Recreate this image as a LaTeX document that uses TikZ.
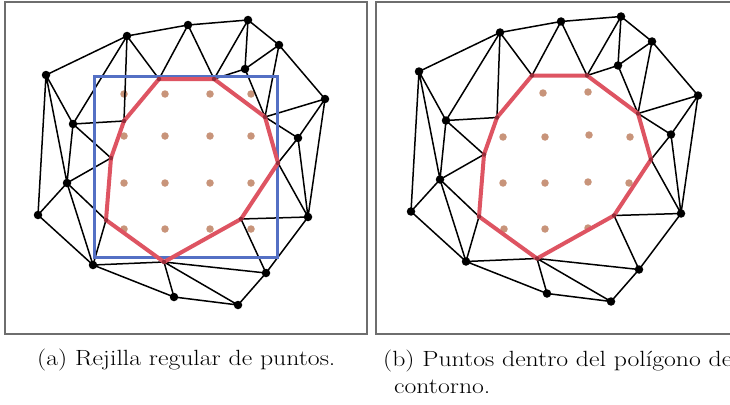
\documentclass[tikz,border=0pt]{standalone}
\definecolor{polyred}{RGB}{222,84,98}
\definecolor{polydark}{RGB}{150,45,58}
\definecolor{gridblue}{RGB}{84,112,196}
\definecolor{gridtan}{RGB}{200,148,122}
\definecolor{framegray}{RGB}{110,110,110}
\tikzset{
  mesh/.style={draw=black, line width=1.5pt},
  vtx/.style={circle, fill=black, inner sep=0pt, minimum size=8.5pt},
  pvtx/.style={circle, fill=polydark, inner sep=0pt, minimum size=4.5pt},
  sample/.style={circle, fill=gridtan, inner sep=0pt, minimum size=7.5pt},
  contour/.style={draw=polyred, line width=4pt, line join=round},
  bbox/.style={draw=gridblue, line width=3pt},
  panel/.style={draw=framegray, line width=1.6pt},
  capt/.style={inner sep=0pt, anchor=base west, font=\fontsize{22}{26}\selectfont}
}
\newcommand\meshcoords{%
  \coordinate (A) at (127,36);
  \coordinate (B) at (188,25);
  \coordinate (C) at (248,20);
  \coordinate (D) at (279,45);
  \coordinate (E) at (245,69);
  \coordinate (F) at (325,99);
  \coordinate (G) at (298,138);
  \coordinate (H) at (46,75);
  \coordinate (I) at (73,124);
  \coordinate (J) at (67,183);
  \coordinate (K) at (38,215);
  \coordinate (L) at (93,265);
  \coordinate (M) at (174,297);
  \coordinate (N) at (238,305);
  \coordinate (O) at (266,273);
  \coordinate (P) at (308,217);
  \coordinate (R1) at (159,79);
  \coordinate (R2) at (214,79);
  \coordinate (R3) at (265,117);
  \coordinate (R4) at (278,163);
  \coordinate (R5) at (241,219);
  \coordinate (R6) at (164,262);
  \coordinate (R7) at (106,220);
  \coordinate (R8) at (111,158);
  \coordinate (R9) at (124,121);
}
\newcommand\meshedges{%
  \draw[mesh] (A) -- (B) (B) -- (C) (C) -- (D) (D) -- (F) (A) -- (H)
    (A) -- (R1) (B) -- (R1) (B) -- (R2) (C) -- (R2) (C) -- (E) (D) -- (E)
    (E) -- (R2) (E) -- (R3) (D) -- (R3) (F) -- (R3) (F) -- (G) (G) -- (R3)
    (G) -- (R4) (G) -- (P) (F) -- (P) (P) -- (R4) (P) -- (R5) (O) -- (P)
    (O) -- (R5) (O) -- (N) (M) -- (N) (R6) -- (O) (R6) -- (N) (R6) -- (M)
    (L) -- (M) (L) -- (R6) (L) -- (R7) (K) -- (L) (J) -- (L) (J) -- (K)
    (J) -- (R7) (J) -- (R8) (I) -- (J) (H) -- (J) (H) -- (K) (H) -- (I)
    (A) -- (I) (I) -- (R9) (I) -- (R8) (A) -- (R9);
}
\newcommand\meshtop{%
  \draw[contour] (R1) -- (R2) -- (R3) -- (R4) -- (R5) -- (R6) -- (R7) -- (R8) -- (R9) -- cycle;
  \foreach \v in {R1,R2,R3,R4,R5,R6,R7,R8,R9} \node[pvtx] (p\v) at (\v) {};
  \foreach \v in {A,B,C,D,E,F,G,H,I,J,K,L,M,N,O,P} \node[vtx] (v\v) at (\v) {};
}
\begin{document}
\begin{tikzpicture}[x=1pt,y=-1pt]
  \useasboundingbox (0,0) rectangle (730,404);
  \fill[white] (0,0) rectangle (730,404);
  % panel frames
  \draw[panel] (5,2) rectangle (367,334);
  \draw[panel] (376,2) rectangle (745,334);
  % ---- panel (a)
  \begin{scope}[name prefix=a-]
    \foreach \x in {124,165,210,251}
      \foreach \y in {94,136,183,229}
        \node[sample] (s\x-\y) at (\x,\y) {};
    \meshcoords
    \meshedges
    \draw[bbox] (94,76) rectangle (277,257);
    \meshtop
  \end{scope}
  % ---- panel (b)
  \foreach \p [count=\i] in {(543,93),(588,92),(503,137),(545,137),(589,135),(630,137),(503,183),(545,183),(588,182),(629,183),(504,229),(545,229),(588,228)}
    \node[sample] (b-s\i) at \p {};
  \begin{scope}[shift={(373,-3.5)}, name prefix=b-]
    \meshcoords
    \meshedges
    \meshtop
  \end{scope}
  % captions
  \node[capt] (capa) at (37,365) {\scalebox{1.17}[1]{(a) Rejilla regular de puntos.}};
  \node[capt] (capb) at (383,366) {\scalebox{1.17}[1]{(b) Puntos dentro del polígono de}};
  \node[capt] (capb2) at (394,393) {\scalebox{1.17}[1]{contorno.}};
\end{tikzpicture}
\end{document}
